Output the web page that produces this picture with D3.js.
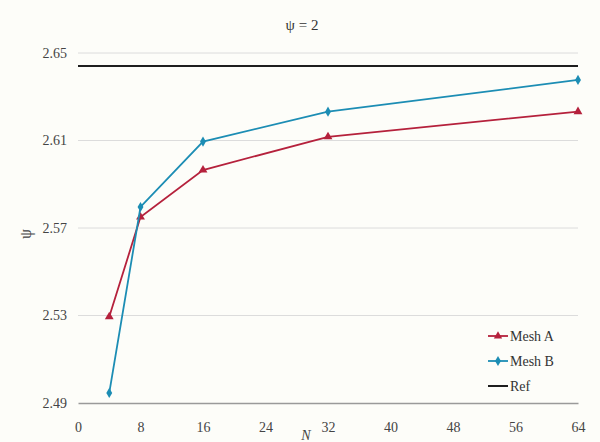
<!DOCTYPE html>
<html>
<head>
<meta charset="utf-8">
<script src="https://cdn.jsdelivr.net/npm/d3@7"></script>
<style>
  html, body { margin: 0; padding: 0; background: #fdfdf9; }
  svg, svg text { font-family: "Liberation Serif", "DejaVu Serif", serif; }
  svg { display: block; }
</style>
</head>
<body>
<svg id="chart" width="600" height="442"></svg>
<script>
// Mesh sizes and the computed values for each mesh
const sizes = [4, 8, 16, 32, 64];
const meshA = [2.5294, 2.575, 2.5965, 2.6117, 2.6232];
const meshB = [2.4946, 2.5796, 2.6095, 2.6232, 2.6377];
const refValue = 2.6441;

const xTicks = [0, 8, 16, 24, 32, 40, 48, 56, 64];
const yTicks = [2.49, 2.53, 2.57, 2.61, 2.65];
const seriesNames = ["Mesh A", "Mesh B", "Ref"];

const svg = d3.select("#chart");
const x = d3.scaleLinear().domain([0, 64]).range([78, 578]);
const y = d3.scaleLinear().domain([2.49, 2.65]).range([403, 53]);

const colA = "#b5213c", colB = "#1c8db4", colRef = "#1e1e1e";
const serif = '"Liberation Serif", "DejaVu Serif", serif';

// horizontal grid
svg.append("g")
  .selectAll("line")
  .data(yTicks.slice(1))
  .join("line")
  .attr("x1", x(0)).attr("x2", x(64))
  .attr("y1", d => y(d)).attr("y2", d => y(d))
  .attr("stroke", "#dcdcdc").attr("stroke-width", 1);

// y axis labels
const yAxis = d3.axisLeft(y).tickValues(yTicks).tickFormat(d3.format(".2f")).tickSize(0).tickPadding(11);
svg.append("g").attr("transform", `translate(${x(0)},0)`).call(yAxis)
  .attr("font-family", null)
  .call(g => g.select(".domain").remove())
  .call(g => g.selectAll("text").style("font-size", "14px").style("fill", "#444")
    .style("font-family", serif));

// x axis
const xAxis = d3.axisBottom(x).tickValues(xTicks).tickFormat(d3.format("d")).tickSize(0).tickPadding(19);
svg.append("g").attr("transform", `translate(0,${y(2.49)})`).call(xAxis)
  .attr("font-family", null)
  .call(g => g.select(".domain").attr("stroke", "#9a9a9a").attr("stroke-width", 1.3))
  .call(g => g.selectAll("text").style("font-size", "14px").style("fill", "#444")
    .style("font-family", serif));

// reference line
svg.append("line")
  .attr("x1", x(0)).attr("x2", x(64))
  .attr("y1", y(refValue)).attr("y2", y(refValue))
  .attr("stroke", colRef).attr("stroke-width", 2);

const line = d3.line().x((d, i) => x(sizes[i])).y(d => y(d));

function drawSeries(vals, color, symbolType, size) {
  svg.append("path").datum(vals)
    .attr("d", line).attr("fill", "none")
    .attr("stroke", color).attr("stroke-width", 1.8);
  svg.append("g").selectAll("path")
    .data(vals)
    .join("path")
    .attr("transform", (d, i) => `translate(${x(sizes[i])},${y(d)})`)
    .attr("d", d3.symbol().type(symbolType).size(size))
    .attr("fill", color);
}
drawSeries(meshA, colA, d3.symbolTriangle, 34);
drawSeries(meshB, colB, d3.symbolDiamond, 30);

// title
svg.append("text")
  .attr("x", 302).attr("y", 30)
  .attr("text-anchor", "middle")
  .style("font-size", "15px").style("fill", "#333")
  .text("ψ = 2");

// axis titles
svg.append("text")
  .attr("x", 306).attr("y", 440)
  .attr("text-anchor", "middle")
  .style("font-size", "14px").style("font-style", "italic").style("fill", "#444")
  .text("N");
svg.append("text")
  .attr("transform", "translate(31,234) rotate(-90)")
  .attr("text-anchor", "middle")
  .style("font-size", "16px").style("fill", "#444")
  .text("ψ");

// legend
const legend = svg.append("g").attr("transform", "translate(488,336)");
const legendColors = [colA, colB, colRef];
const legendSymbols = [d3.symbolTriangle, d3.symbolDiamond, null];
seriesNames.forEach((name, i) => {
  const g = legend.append("g").attr("transform", `translate(0,${i * 25})`);
  g.append("line").attr("x1", 0).attr("x2", 20).attr("y1", 0).attr("y2", 0)
    .attr("stroke", legendColors[i]).attr("stroke-width", i === 2 ? 2 : 1.8);
  if (legendSymbols[i]) {
    g.append("path").attr("transform", "translate(10,0)")
      .attr("d", d3.symbol().type(legendSymbols[i]).size(30))
      .attr("fill", legendColors[i]);
  }
  g.append("text").attr("x", 22).attr("y", 5)
    .style("font-size", "14px").style("fill", "#333").text(name);
});
</script>
</body>
</html>
